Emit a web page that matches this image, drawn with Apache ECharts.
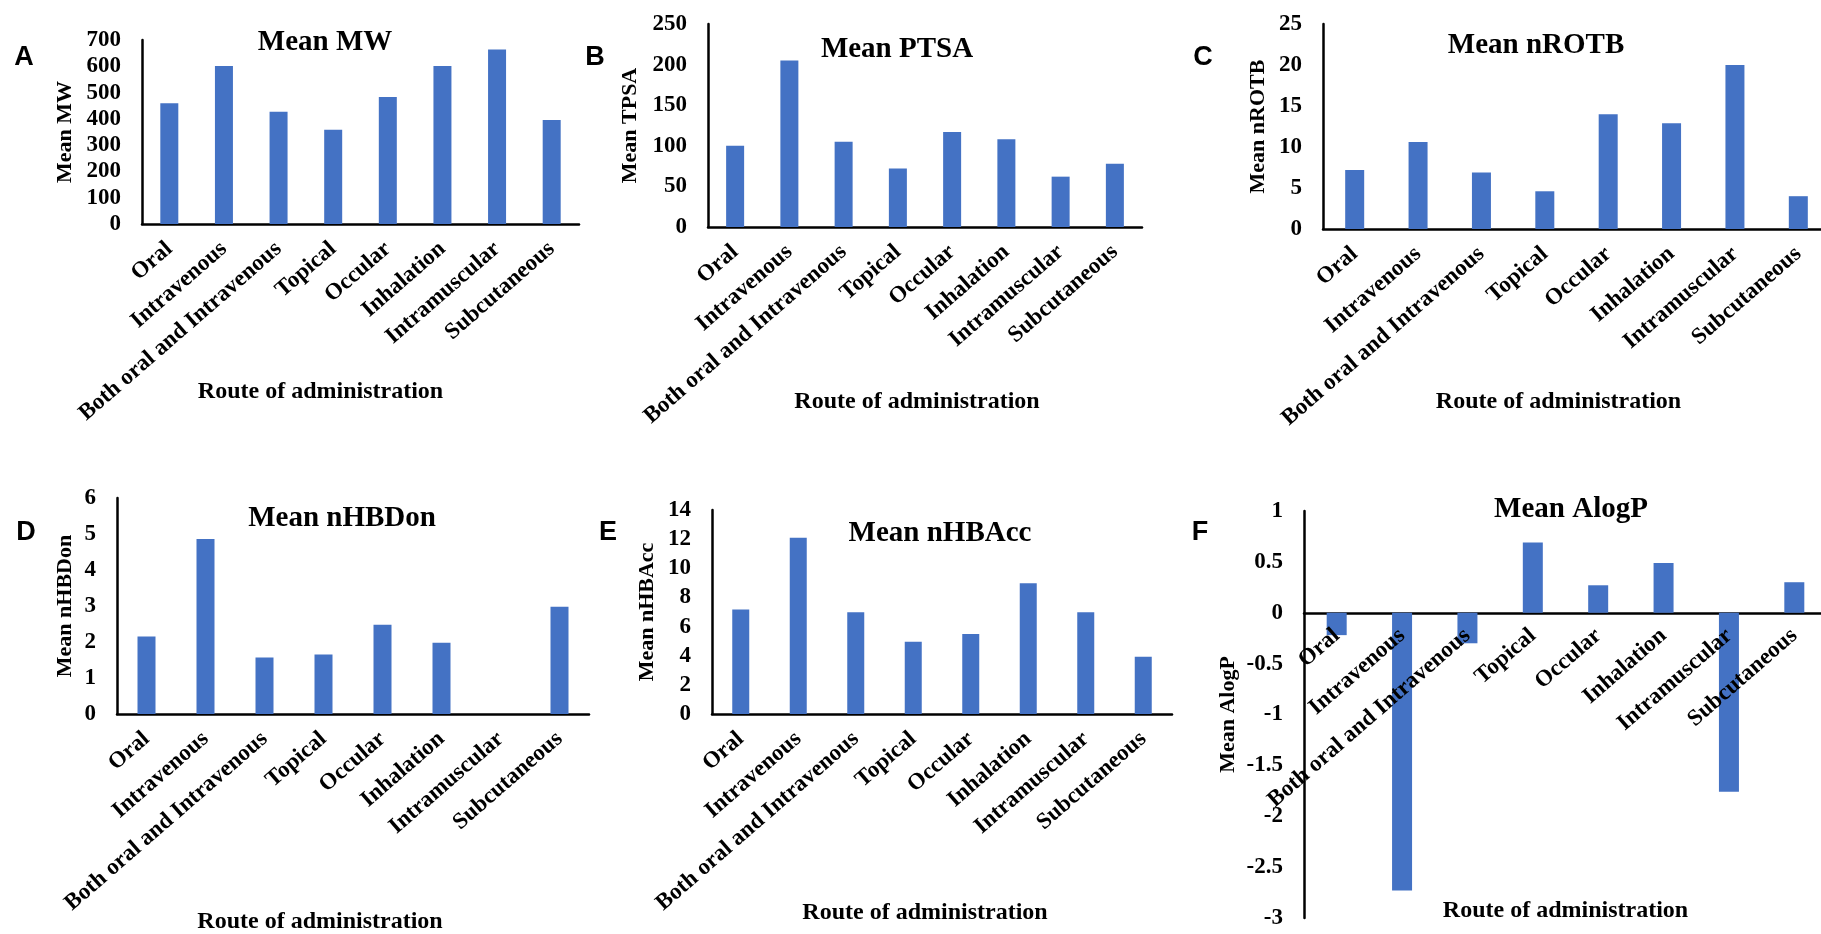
<!DOCTYPE html>
<html>
<head>
<meta charset="utf-8">
<script src="https://cdn.jsdelivr.net/npm/echarts@6/dist/echarts.min.js"></script>
<style>
html,body{margin:0;padding:0;background:#fff;overflow:hidden;}
#chart{width:1821px;height:934px;}
</style>
</head>
<body>
<div id="chart"></div>
<script>
const categories = ['Oral','Intravenous','Both oral and Intravenous','Topical','Occular','Inhalation','Intramuscular','Subcutaneous'];
const meanMW     = [459, 601, 427, 359, 483, 601, 664, 396];
const meanTPSA   = [100, 205, 105, 72, 117, 108, 62, 78];
const meanNROTB  = [7.2, 10.6, 6.9, 4.6, 14.0, 12.9, 20.0, 4.0];
const meanNHBDon = [2.15, 4.86, 1.57, 1.65, 2.48, 1.98, 0, 2.98];
const meanNHBAcc = [7.18, 12.1, 6.98, 4.96, 5.49, 8.97, 6.98, 3.93];
const meanAlogP  = [-0.22, -2.73, -0.30, 0.69, 0.27, 0.49, -1.76, 0.30];

const titles = ['Mean MW','Mean PTSA','Mean nROTB','Mean nHBDon','Mean nHBAcc','Mean AlogP'];
const yNames = ['Mean MW','Mean TPSA','Mean nROTB','Mean nHBDon','Mean nHBAcc','Mean AlogP'];
const panelLetters = ['A','B','C','D','E','F'];
const xName = 'Route of administration';

const SERIF = "'Liberation Serif','Times New Roman',serif";
const BLUE = '#4472C4';

// layout per panel
const panels = [
  {data: meanMW,     grid:{left:142, top:40,  width:437, height:184}, min:0,  max:700, step:100, barW:18, yGap:66, xGap:156, xPad:80, title:[325,43],  letter:[24,58]},
  {data: meanTPSA,   grid:{left:708, top:24,  width:434, height:203}, min:0,  max:250, step:50,  barW:18, yGap:67, xGap:163, xPad:16, title:[897,50],  letter:[595,58]},
  {data: meanNROTB,  grid:{left:1323,top:24,  width:507, height:205}, min:0,  max:25,  step:5,   barW:19, yGap:54, xGap:161, xPad:36, title:[1536,46], letter:[1203,58]},
  {data: meanNHBDon, grid:{left:117, top:498, width:472, height:216}, min:0,  max:6,   step:1,   barW:18, yGap:41, xGap:196, xPad:66, title:[342,519], letter:[26,533]},
  {data: meanNHBAcc, grid:{left:712, top:510, width:460, height:204}, min:0,  max:14,  step:2,   barW:17, yGap:54, xGap:187, xPad:34, title:[940,534], letter:[608,533]},
  {data: meanAlogP,  grid:{left:1304,top:511, width:523, height:407}, min:-3, max:1,   step:0.5, barW:20, yGap:65, xGap:286, xPad:0,  title:[1571,510],letter:[1200,533]}
];
// Panel F: its category labels sit under the zero line, so they live on an extra
// label-only axis whose grid ends exactly at the zero line of the F panel.
const fLabelGrid = {left:1304, top:511, width:523, height:101.75};

const labelStyle = {interval: 0, rotate: 41, hideOverlap: false, fontFamily: SERIF, fontWeight: 'bold', fontSize: 23, color: '#000'};
const nameStyle = (pad) => ({fontFamily: SERIF, fontWeight: 'bold', fontSize: 24, color: '#000', padding: [0, pad, 0, 0]});

const grids = panels.map(p => Object.assign({containLabel:false, outerBoundsMode:'none'}, p.grid));
grids.push(Object.assign({containLabel:false, outerBoundsMode:'none'}, fLabelGrid));

const xAxes = panels.map((p, i) => {
  const isF = i === 5;
  return {
    type: 'category',
    gridIndex: i,
    data: categories,
    name: isF ? '' : xName,
    nameLocation: 'middle',
    nameGap: p.xGap,
    nameMoveOverlap: false,
    nameTextStyle: nameStyle(p.xPad),
    axisLine: {show: true, onZero: true, lineStyle: {color: '#000', width: 2.5}},
    axisTick: {show: false},
    axisLabel: Object.assign({show: !isF, margin: 22}, labelStyle),
    splitLine: {show: false}
  };
});
xAxes.push({
  type: 'category',
  gridIndex: 6,
  data: categories,
  z: 10,
  name: xName,
  nameLocation: 'middle',
  nameGap: panels[5].xGap,
  nameMoveOverlap: false,
  nameTextStyle: nameStyle(panels[5].xPad),
  axisLine: {show: false},
  axisTick: {show: false},
  axisLabel: Object.assign({margin: 20}, labelStyle),
  splitLine: {show: false}
});

const yAxes = panels.map((p, i) => ({
  type: 'value',
  gridIndex: i,
  min: p.min, max: p.max, interval: p.step,
  name: yNames[i],
  nameLocation: 'middle',
  nameGap: p.yGap,
  nameMoveOverlap: false,
  nameTextStyle: {fontFamily: SERIF, fontWeight: 'bold', fontSize: 22, color: '#000'},
  axisLine: {show: true, lineStyle: {color: '#000', width: 2.5}},
  axisTick: {show: false},
  axisLabel: {margin: 21, fontFamily: SERIF, fontWeight: 'bold', fontSize: 23, color: '#000'},
  splitLine: {show: false}
}));
yAxes.push({type: 'value', gridIndex: 6, min: 0, max: 1, show: false});

const option = {
  animation: false,
  backgroundColor: '#fff',
  grid: grids,
  xAxis: xAxes,
  yAxis: yAxes,
  series: panels.map((p, i) => ({
    type: 'bar',
    xAxisIndex: i,
    yAxisIndex: i,
    data: p.data,
    barWidth: p.barW,
    itemStyle: {color: BLUE}
  })),
  graphic: [].concat(
    panels.map((p, i) => ({
      type: 'text', x: p.title[0], y: p.title[1], z: 10,
      style: {text: titles[i], fill: '#000', font: "bold 29px " + SERIF, align: 'center', verticalAlign: 'middle'}
    })),
    panels.map((p, i) => ({
      type: 'text', x: p.letter[0], y: p.letter[1], z: 10,
      style: {text: panelLetters[i], fill: '#000', font: "bold 27px 'Liberation Sans',Arial,sans-serif", align: 'center', verticalAlign: 'middle'}
    }))
  )
};

const chart = echarts.init(document.getElementById('chart'), null, {renderer: 'canvas', width: 1821, height: 934});
chart.setOption(option);
</script>
</body>
</html>
